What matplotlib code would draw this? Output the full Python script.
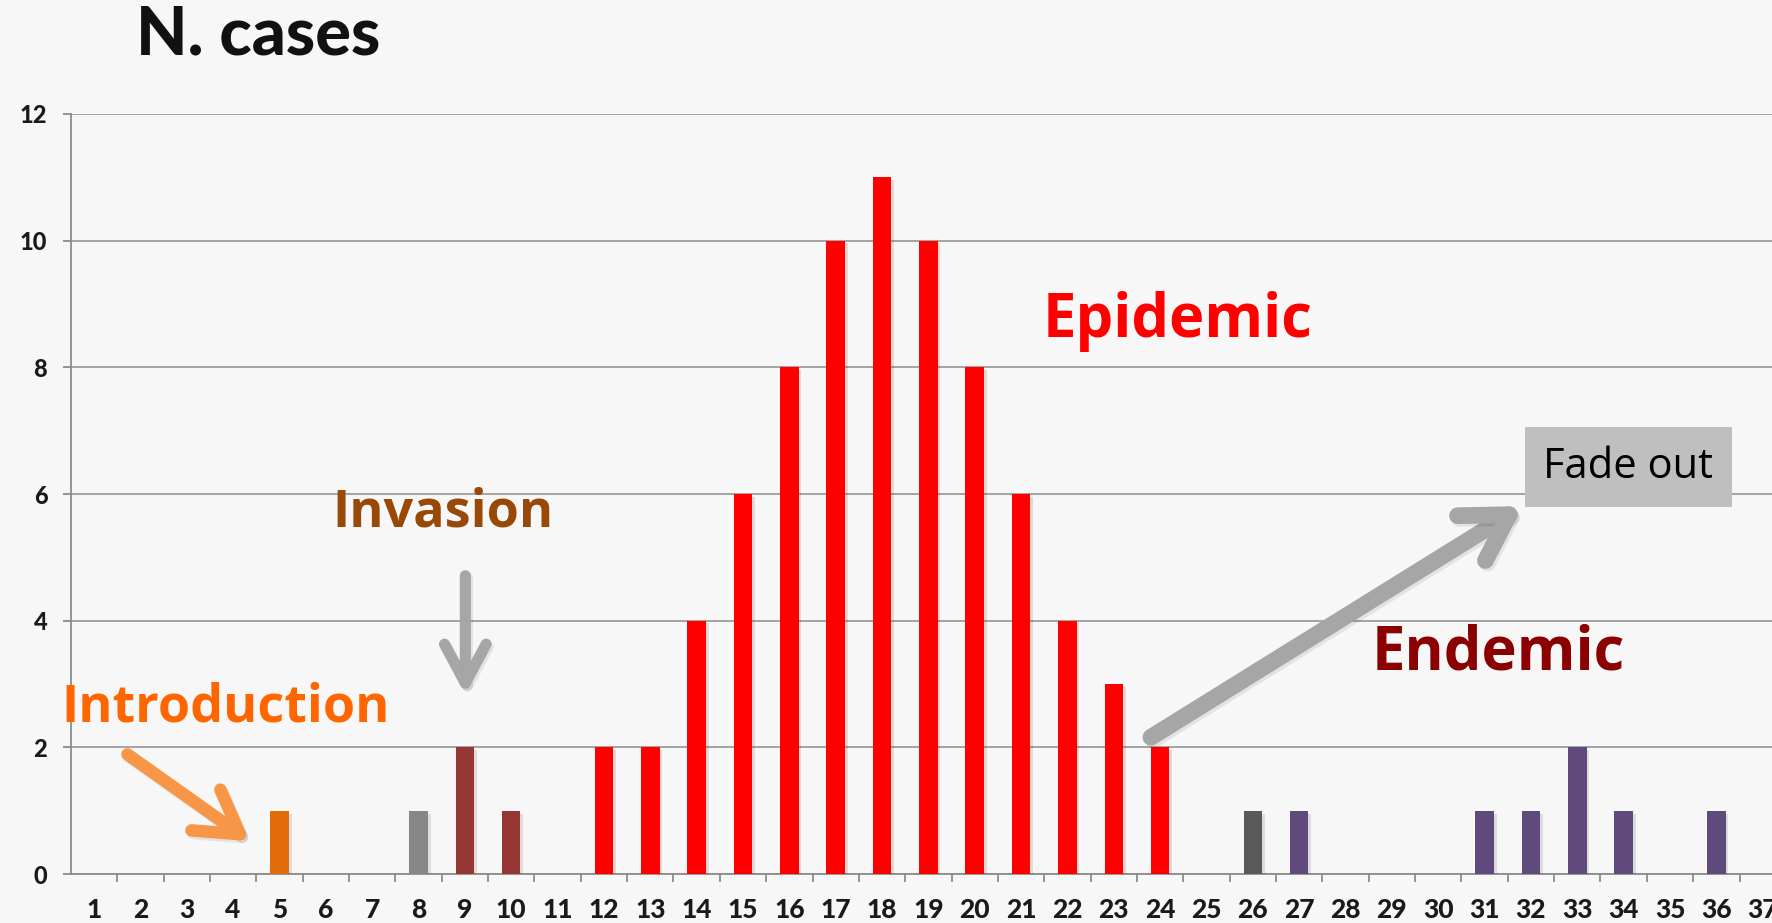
import matplotlib.pyplot as plt
import matplotlib.patheffects as pe

# Epidemic curve: number of cases per time unit
weeks = list(range(1, 38))
cases = [0, 0, 0, 0, 1, 0, 0, 1, 2, 1, 0, 2, 2, 4, 6, 8, 10, 11, 10, 8, 6, 4, 3, 2,
         0, 1, 1, 0, 0, 0, 1, 1, 2, 1, 0, 1, 0]

ORANGE = '#e36c0a'
GREY = '#878787'
BROWN = '#953735'
RED = '#ff0000'
DGREY = '#595959'
PURPLE = '#604a7b'
bar_colors = ([GREY] * 4 + [ORANGE] + [GREY] * 3 + [BROWN, BROWN, GREY]
              + [RED] * 13 + [GREY, DGREY] + [PURPLE] * 11)

bg = '#f7f7f7'
line_col = '#8c8c8c'

fig = plt.figure(figsize=(17.72, 9.23), dpi=100, facecolor=bg)
ax = fig.add_axes([0.0400, 0.053, 0.9600, 0.8235])
ax.set_facecolor(bg)

shadow = [pe.SimplePatchShadow(offset=(2, -2), alpha=0.12), pe.Normal()]
ax.bar(weeks, cases, width=0.40, color=bar_colors, zorder=3, path_effects=shadow)

ax.set_yticks(range(0, 13, 2))
ax.set_xticks(weeks)
ax.set_xticks([w + 0.5 for w in weeks], minor=True)
# limits after ticks (set_xticks would widen the view)
ax.set_xlim(0.5, 37.2)
ax.set_ylim(0, 12)

ax.grid(axis='y', color=line_col, linewidth=1.1, zorder=0)
for s in ['top', 'right']:
    ax.spines[s].set_visible(False)
for s in ['left', 'bottom']:
    ax.spines[s].set_color(line_col)
    ax.spines[s].set_linewidth(1.3)

ax.tick_params(axis='x', which='major', length=0, pad=17, labelsize=19)
ax.tick_params(axis='x', which='minor', length=6, width=1.3, color=line_col)
ax.tick_params(axis='y', length=6, width=1.3, color=line_col, pad=11, labelsize=17)
for lab in ax.get_xticklabels() + ax.get_yticklabels():
    lab.set_fontfamily('Lato')
    lab.set_fontweight(900)
    lab.set_color('#1a1a1a')

fig.text(0.077, 0.962, 'N. cases', ha='left', va='center', fontsize=48,
         fontweight=900, family='Lato', color='#111111')

lab_font = dict(family='Open Sans', fontweight='bold', ha='center', va='center')
ax.text(24.38, 8.72, 'Epidemic', color='#ff0000', fontsize=43, **lab_font)
ax.text(8.52, 5.7, 'Invasion', color='#984807', fontsize=37.5, **lab_font)
ax.text(3.83, 2.62, 'Introduction', color='#ff6600', fontsize=37.5, **lab_font)
ax.text(31.3, 3.48, 'Endemic', color='#8b0000', fontsize=43, **lab_font)
ax.text(34.1, 6.43, 'Fade out', color='black', fontsize=30, family='Open Sans',
        ha='center', va='center',
        bbox=dict(boxstyle='square,pad=0.45', facecolor='#bfbfbf', edgecolor='none'))

# arrows
def arrow(start, end, color, lw, hl, hw):
    ax.annotate('', xy=end, xytext=start,
                arrowprops=dict(arrowstyle=f'->,head_length={hl},head_width={hw}',
                                lw=lw, color=color, capstyle='round',
                                joinstyle='round', shrinkA=0, shrinkB=0,
                                mutation_scale=10,
                                path_effects=[pe.SimpleLineShadow(offset=(1.5, -2), alpha=0.08),
                                              pe.Normal()]),
                zorder=4)

arrow((1.72, 1.89), (4.36, 0.52), '#f79646', 9, 3.0, 1.8)
arrow((9.01, 4.71), (9.01, 2.83), '#a6a6a6', 8, 2.8, 1.5)
arrow((23.8, 2.16), (31.83, 5.81), '#a6a6a6', 12, 3.2, 1.9)

fig.savefig('out.png', dpi=100, facecolor=bg)
